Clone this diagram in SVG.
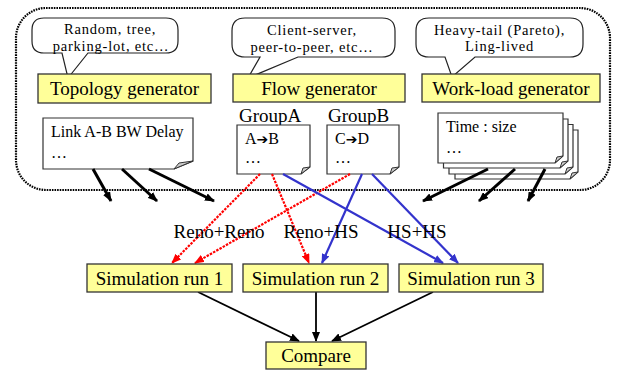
<svg xmlns="http://www.w3.org/2000/svg" width="619" height="370" viewBox="0 0 619 370">
<defs>
<style>
.t{font-family:"Liberation Serif","Times New Roman",serif;fill:#000}
.s16{font-size:16px}
.sc{font-size:14.5px;letter-spacing:0.8px}
.s19{font-size:19px}
.box{fill:#ffff99;stroke:#333;stroke-width:1.3}
.callout{fill:#fff;stroke:#222;stroke-width:1.2}
.doc{fill:#fff;stroke:#333;stroke-width:1.2}
.fold{fill:#ccc;stroke:#333;stroke-width:1}
.blk{stroke:#000;stroke-width:3;fill:none}
.blk2{stroke:#000;stroke-width:1.8;fill:none}
.red{stroke:#ff0000;stroke-width:2.2;stroke-dasharray:2.5 1.2;fill:none}
.blue{stroke:#3333cc;stroke-width:2.2;fill:none}
</style>
<marker id="ak" markerWidth="10" markerHeight="8" refX="9" refY="4" orient="auto" markerUnits="userSpaceOnUse"><path d="M0,0 L10,4 L0,8 Z" fill="#000"/></marker>
<marker id="ar" markerWidth="10" markerHeight="8" refX="9" refY="4" orient="auto" markerUnits="userSpaceOnUse"><path d="M0,0 L10,4 L0,8 Z" fill="#ff0000"/></marker>
<marker id="ab" markerWidth="10" markerHeight="8" refX="9" refY="4" orient="auto" markerUnits="userSpaceOnUse"><path d="M0,0 L10,4 L0,8 Z" fill="#3333cc"/></marker>
</defs>
<rect x="0" y="0" width="619" height="370" fill="#fff"/>

<g id="frame">
<rect x="16" y="8" width="594" height="182" rx="30" ry="30" fill="none" stroke="#000" stroke-width="2.2" stroke-dasharray="1.6 1"/>
</g>

<g id="callout-topology">
<path class="callout" d="M44,18 H166 Q178,18 178,30 V41 Q178,53 166,53 H88 L68,78 L62,53 H44 Q32,53 32,41 V30 Q32,18 44,18 Z"/>
<text class="t sc" x="110" y="34" text-anchor="middle">Random, tree,</text>
<text class="t sc" x="111" y="50.5" text-anchor="middle">parking-lot, etc…</text>
</g>
<g id="topology-generator">
<rect class="box" x="38" y="74" width="173" height="29"/>
<text class="t s19" x="124.5" y="95" text-anchor="middle">Topology generator</text>
</g>

<g id="callout-flow">
<path class="callout" d="M245,18 H382 Q395,18 395,31 V44 Q395,57 382,57 H298 L248,78 L260,57 H245 Q232,57 232,44 V31 Q232,18 245,18 Z"/>
<text class="t sc" x="312" y="35" text-anchor="middle">Client-server,</text>
<text class="t sc" x="312" y="51.5" text-anchor="middle">peer-to-peer, etc…</text>
</g>
<g id="flow-generator">
<rect class="box" x="233" y="74" width="172" height="28"/>
<text class="t s19" x="319" y="95" text-anchor="middle">Flow generator</text>
</g>

<g id="callout-workload">
<path class="callout" d="M429,18 H570 Q583,18 583,31 V44 Q583,57 570,57 H475 L452,77 L445,57 H429 Q416,57 416,44 V31 Q416,18 429,18 Z"/>
<text class="t sc" x="499.5" y="34.5" text-anchor="middle">Heavy-tail (Pareto),</text>
<text class="t sc" x="499.5" y="51" text-anchor="middle">Ling-lived</text>
</g>
<g id="workload-generator">
<rect class="box" x="422" y="74" width="178" height="28"/>
<text class="t s19" x="511" y="95" text-anchor="middle">Work-load generator</text>
</g>

<g id="link-doc">
<path class="doc" d="M43,118 H193 V161 L174,169 H43 Z"/>
<path class="fold" d="M193,161 L174,169 L179,163 Z"/>
<text class="t s16" x="51" y="137">Link A-B BW Delay</text>
<text class="t s16" x="51" y="158">…</text>
</g>

<g id="groupA">
<text class="t s19" x="239" y="122">GroupA</text>
<path class="doc" d="M237,125 H310 V167 L301,174 H237 Z"/>
<path class="fold" d="M310,167 L301,174 L303,168 Z"/>
<text class="t s16" x="245" y="144">A<tspan font-family="'DejaVu Sans',sans-serif" font-size="14">➔</tspan>B</text>
<text class="t s16" x="245" y="163">…</text>
</g>

<g id="groupB">
<text class="t s19" x="328" y="122">GroupB</text>
<path class="doc" d="M327,125 H399 V167 L390,174 H327 Z"/>
<path class="fold" d="M399,167 L390,174 L392,168 Z"/>
<text class="t s16" x="335" y="144">C<tspan font-family="'DejaVu Sans',sans-serif" font-size="14">➔</tspan>D</text>
<text class="t s16" x="335" y="163">…</text>
</g>

<g id="time-docs">
<path class="doc" d="M455,130 H578 V172 L570,179 H455 Z"/>
<path class="fold" d="M578,172 L570,179 L572,173 Z"/>
<path class="doc" d="M449,124.5 H573 V167 L565,174 H449 Z"/>
<path class="fold" d="M573,167 L565,174 L567,168 Z"/>
<path class="doc" d="M443.5,119 H568 V161 L560,168 H443.5 Z"/>
<path class="fold" d="M568,161 L560,168 L562,162 Z"/>
<path class="doc" d="M438,113 H563 V156 L555,163 H438 Z"/>
<path class="fold" d="M563,156 L555,163 L557,157 Z"/>
<text class="t s16" x="446" y="132">Time : size</text>
<text class="t s16" x="446" y="153">…</text>
</g>

<g id="connectors">
<line class="blk" x1="93" y1="169" x2="111" y2="201" marker-end="url(#ak)"/>
<line class="blk" x1="122" y1="169" x2="157" y2="201" marker-end="url(#ak)"/>
<line class="blk" x1="149" y1="169" x2="214" y2="201" marker-end="url(#ak)"/>
<line class="blk" x1="488" y1="169" x2="423" y2="201" marker-end="url(#ak)"/>
<line class="blk" x1="515" y1="169" x2="479" y2="201" marker-end="url(#ak)"/>
<line class="blk" x1="545" y1="169" x2="528" y2="201" marker-end="url(#ak)"/>

<line class="red" x1="260" y1="174" x2="172" y2="263" marker-end="url(#ar)"/>
<line class="red" x1="272" y1="174" x2="309" y2="263" marker-end="url(#ar)"/>
<line class="red" x1="350" y1="174" x2="195" y2="263" marker-end="url(#ar)"/>

<line class="blue" x1="283" y1="174" x2="443" y2="263" marker-end="url(#ab)"/>
<line class="blue" x1="362" y1="174" x2="322" y2="263" marker-end="url(#ab)"/>
<line class="blue" x1="372" y1="174" x2="458" y2="263" marker-end="url(#ab)"/>

<line class="blk2" x1="198" y1="292" x2="299" y2="341" marker-end="url(#ak)"/>
<line class="blk2" x1="316" y1="292" x2="316" y2="341" marker-end="url(#ak)"/>
<line class="blk2" x1="433" y1="292" x2="332" y2="341" marker-end="url(#ak)"/>
</g>

<g id="labels">
<text class="t s19" x="219" y="238" text-anchor="middle">Reno+Reno</text>
<text class="t s19" x="321" y="238" text-anchor="middle">Reno+HS</text>
<text class="t s19" x="417" y="238" text-anchor="middle">HS+HS</text>
</g>

<g id="sim1">
<rect class="box" x="87" y="264" width="145" height="28"/>
<text class="t s19" x="159.5" y="285" text-anchor="middle">Simulation run 1</text>
</g>
<g id="sim2">
<rect class="box" x="243" y="264" width="145" height="28"/>
<text class="t s19" x="315.5" y="285" text-anchor="middle">Simulation run 2</text>
</g>
<g id="sim3">
<rect class="box" x="399" y="264" width="144" height="28"/>
<text class="t s19" x="471" y="285" text-anchor="middle">Simulation run 3</text>
</g>
<g id="compare">
<rect class="box" x="266" y="342" width="100" height="27"/>
<text class="t s19" x="316" y="362" text-anchor="middle">Compare</text>
</g>
</svg>
